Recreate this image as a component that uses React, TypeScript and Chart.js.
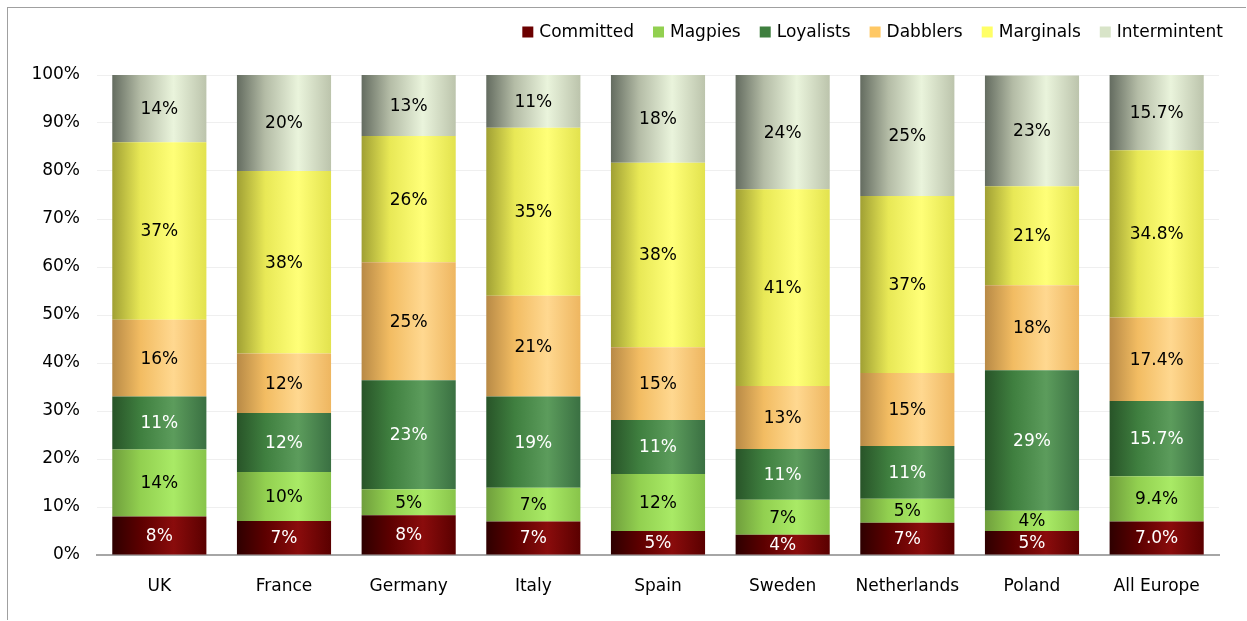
import React, { useEffect, useRef } from "react";
import { Chart, registerables } from "chart.js";

Chart.register(...registerables);

const categories = ["UK", "France", "Germany", "Italy", "Spain", "Sweden", "Netherlands", "Poland", "All Europe"];
const seriesNames = ["Committed", "Magpies", "Loyalists", "Dabblers", "Marginals", "Intermintent"];

const committed = [8, 7.1, 8.3, 7, 5, 4.2, 6.7, 5, 7.0];
const magpies = [14, 10.2, 5.4, 7, 11.9, 7.3, 5, 4.2, 9.4];
const loyalists = [11, 12.3, 22.7, 19, 11.2, 10.6, 11, 29.3, 15.7];
const dabblers = [16, 12.4, 24.6, 21, 15.2, 13.1, 15.2, 17.7, 17.4];
const marginals = [37, 38, 26.3, 35, 38.4, 41, 36.9, 20.6, 34.8];
const intermittent = [14, 20, 12.7, 11, 18.3, 23.8, 25.2, 23.1, 15.7];

const yTicks = [0, 10, 20, 30, 40, 50, 60, 70, 80, 90, 100];

const seriesValues = [committed, magpies, loyalists, dabblers, marginals, intermittent];
const solidColors = ["#6b0000", "#92d050", "#3f7f3f", "#ffc864", "#ffff66", "#d8e4c8"];
const gradStops = [
  ["#2e0000", "#5c0000", "#8a0c0c", "#5a0000"],
  ["#6f9e3c", "#92d050", "#a9ea66", "#88c44a"],
  ["#285428", "#3f7f3f", "#5c9c5c", "#3a7042"],
  ["#b88a46", "#f2bc62", "#ffd890", "#eeb660"],
  ["#a0a034", "#e8e856", "#ffff78", "#e2e24e"],
  ["#646c60", "#b4bca6", "#eaf4dc", "#bcc4ac"],
];
const labelColors = ["#ffffff", "#000000", "#ffffff", "#000000", "#000000", "#000000"];

const FONT = "'DejaVu Sans', sans-serif";
const BAR_PCT = 0.755;
const W = 1238;
const H = 612;

const dataLabelPlugin = {
  id: "dataLabels",
  afterDatasetsDraw(chart: any) {
    const ctx = chart.ctx;
    ctx.save();
    ctx.font = `17px ${FONT}`;
    ctx.textAlign = "center";
    ctx.textBaseline = "middle";
    chart.data.datasets.forEach((ds: any, di: number) => {
      const meta = chart.getDatasetMeta(di);
      meta.data.forEach((el: any, i: number) => {
        const v = ds.data[i];
        const txt = i === categories.length - 1 ? v.toFixed(1) + "%" : Math.round(v) + "%";
        ctx.fillStyle = labelColors[di];
        ctx.fillText(txt, el.x, (el.y + el.base) / 2 + 1);
      });
    });
    ctx.restore();
  },
};

const legendPlugin = {
  id: "customLegend",
  afterDraw(chart: any) {
    const ctx = chart.ctx;
    ctx.save();
    ctx.font = `17px ${FONT}`;
    ctx.textBaseline = "middle";
    ctx.textAlign = "left";
    const box = 11;
    const gap = 6;
    const itemGap = 19;
    const widths = seriesNames.map((n) => ctx.measureText(n).width);
    const total = widths.reduce((a, w) => a + box + gap + w, 0) + itemGap * (seriesNames.length - 1);
    let x = 1215 - total;
    const cy = 24;
    seriesNames.forEach((n, i) => {
      ctx.fillStyle = solidColors[i];
      ctx.fillRect(x, cy - box / 2, box, box);
      x += box + gap;
      ctx.fillStyle = "#000";
      ctx.fillText(n, x, cy + 1);
      x += widths[i] + itemGap;
    });
    ctx.restore();
  },
};

export default function App() {
  const ref = useRef<HTMLCanvasElement>(null);
  useEffect(() => {
    if (!ref.current) return;
    const chart = new Chart(ref.current, {
      type: "bar",
      data: {
        labels: categories,
        datasets: seriesNames.map((name, si) => ({
          label: name,
          data: seriesValues[si],
          borderWidth: 0,
          barPercentage: BAR_PCT,
          categoryPercentage: 1,
          backgroundColor: (c: any) => {
            const ch = c.chart;
            if (c.type !== "data" || !ch.chartArea) return solidColors[si];
            const xs = ch.scales.x;
            const cx = xs.getPixelForValue(c.dataIndex);
            const hw = (xs.width / categories.length) * BAR_PCT / 2;
            const g = ch.ctx.createLinearGradient(cx - hw, 0, cx + hw, 0);
            const s = gradStops[si];
            g.addColorStop(0, s[0]);
            g.addColorStop(0.3, s[1]);
            g.addColorStop(0.65, s[2]);
            g.addColorStop(1, s[3]);
            return g;
          },
        })),
      },
      options: {
        responsive: false,
        animation: false,
        layout: { padding: { top: 67, right: 27, bottom: 0, left: 0 } },
        plugins: {
          tooltip: { enabled: false },
          legend: { display: false },
        },
        scales: {
          x: {
            stacked: true,
            grid: { display: false },
            border: { display: true, color: "#a6a6a6", width: 2 },
            ticks: { color: "#000", font: { family: FONT, size: 17 }, padding: 13 },
            afterFit: (s: any) => { s.height = 65; },
          },
          y: {
            stacked: true,
            min: 0,
            max: 100,
            afterBuildTicks: (s: any) => { s.ticks = yTicks.map((v) => ({ value: v })); },
            grid: { color: "#efefef", drawTicks: false },
            border: { display: false },
            ticks: {
              color: "#000",
              font: { family: FONT, size: 17 },
              padding: 17,
              callback: (v: any) => v + "%",
            },
            afterFit: (s: any) => { s.width = 89; },
          },
        },
      },
      plugins: [dataLabelPlugin, legendPlugin],
    });
    return () => chart.destroy();
  }, []);
  return (
    <div style={{ position: "absolute", left: 7, top: 7, borderLeft: "1px solid #a0a0a0", borderTop: "1px solid #a0a0a0", width: W, height: H }}>
      <canvas ref={ref} width={W} height={H} style={{ display: "block" }} />
    </div>
  );
}
